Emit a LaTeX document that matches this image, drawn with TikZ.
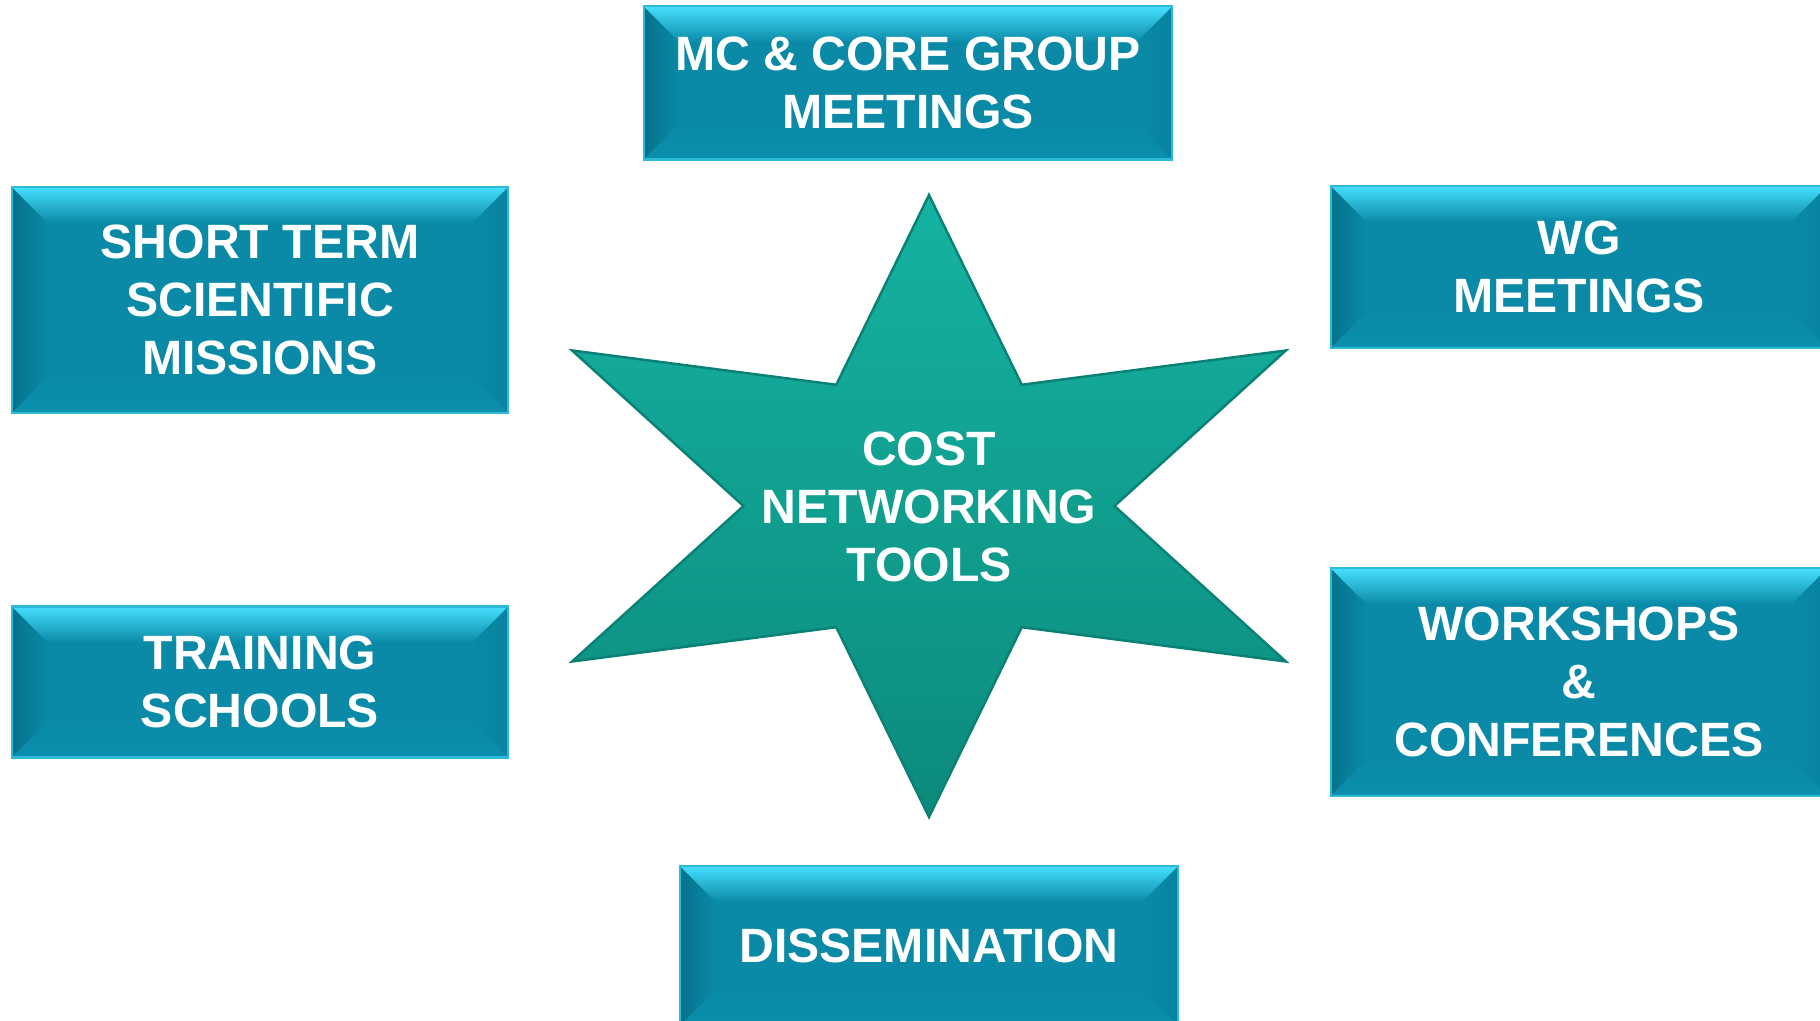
\documentclass[tikz,border=0pt]{standalone}
\usepackage{fontspec}
\newfontfamily\toolfont{Liberation Sans}
\usetikzlibrary{calc,positioning}
\definecolor{boxmain}{HTML}{0A8AA6}
\definecolor{boxrim}{HTML}{2FB9D8}
\definecolor{bevtop}{HTML}{46DEFF}
\definecolor{bevleft}{HTML}{06728C}
\definecolor{bevright}{HTML}{0883A0}
\definecolor{bevbot}{HTML}{0A8FAC}
\definecolor{startop}{HTML}{15B3A2}
\definecolor{starbot}{HTML}{0C8A7C}
\definecolor{staredge}{HTML}{0B8175}
\def\bev{0.36cm}
\tikzset{
    tool/.style = {rectangle, fill=boxmain, draw=boxrim, line width=0.6pt,
        text=white, align=center, inner sep=0pt,
        font=\toolfont\bfseries\fontsize{13.7}{16.6}\selectfont,
        path picture={
            \path (path picture bounding box.north west) coordinate (pnw)
                  (path picture bounding box.north east) coordinate (pne)
                  (path picture bounding box.south west) coordinate (psw)
                  (path picture bounding box.south east) coordinate (pse);
            \fill[left color=bevleft, right color=boxmain] (pnw) -- ($(pnw)+(\bev,-\bev)$) -- ($(psw)+(\bev,\bev)$) -- (psw) -- cycle;
            \fill[left color=boxmain, right color=bevright] (pne) -- ($(pne)+(-\bev,-\bev)$) -- ($(pse)+(-\bev,\bev)$) -- (pse) -- cycle;
            \fill[top color=boxmain, bottom color=bevbot] (psw) -- ($(psw)+(\bev,\bev)$) -- ($(pse)+(-\bev,\bev)$) -- (pse) -- cycle;
            \fill[top color=bevtop, bottom color=boxmain] (pnw) -- (pne) -- ($(pne)+(-\bev,-\bev)$) -- ($(pnw)+(\bev,-\bev)$) -- cycle;
        }},
    toollabel/.style = {text=white, align=center, inner sep=0pt,
        font=\toolfont\bfseries\fontsize{13.7}{16.6}\selectfont},
    starfill/.style = {top color=startop, bottom color=starbot, draw=staredge, line width=0.7pt, line join=miter}
}

\begin{document}
\begin{tikzpicture}[x=0.01cm, y=0.01cm]
    \useasboundingbox (0,0) rectangle (1820,1021);
    \clip (0,0) rectangle (1820,1021);
    % central star
    \begin{scope}[shift={(929,515)}, xscale=1.325]
        \fill[starfill] (90:311) \foreach \a in {90,30,-30,-90,-150,-210} { -- ({\a-30}:140) -- ({\a-60}:311) } -- cycle;
    \end{scope}
    \node [toollabel] (cost) at (929,514) {COST\\NETWORKING\\TOOLS};
    % surrounding boxes
    \node [tool, minimum width=5.28cm, minimum height=1.53cm] (mc) at (908,938) {MC \& CORE GROUP\\MEETINGS};
    \node [tool, minimum width=4.96cm, minimum height=2.26cm] (stsm) at (260,721) {SHORT TERM\\SCIENTIFIC\\MISSIONS};
    \node [tool, minimum width=4.96cm, minimum height=1.62cm] (wg) at (1579,754) {WG\\MEETINGS};
    \node [tool, minimum width=4.96cm, minimum height=1.51cm] (ts) at (260,339) {TRAINING\\SCHOOLS};
    \node [tool, minimum width=4.96cm, minimum height=2.27cm] (wc) at (1579,339) {WORKSHOPS\\\&\\CONFERENCES};
    \node [tool, minimum width=4.98cm, minimum height=1.60cm] (dis) at (929,75) {DISSEMINATION};
\end{tikzpicture}
\end{document}
